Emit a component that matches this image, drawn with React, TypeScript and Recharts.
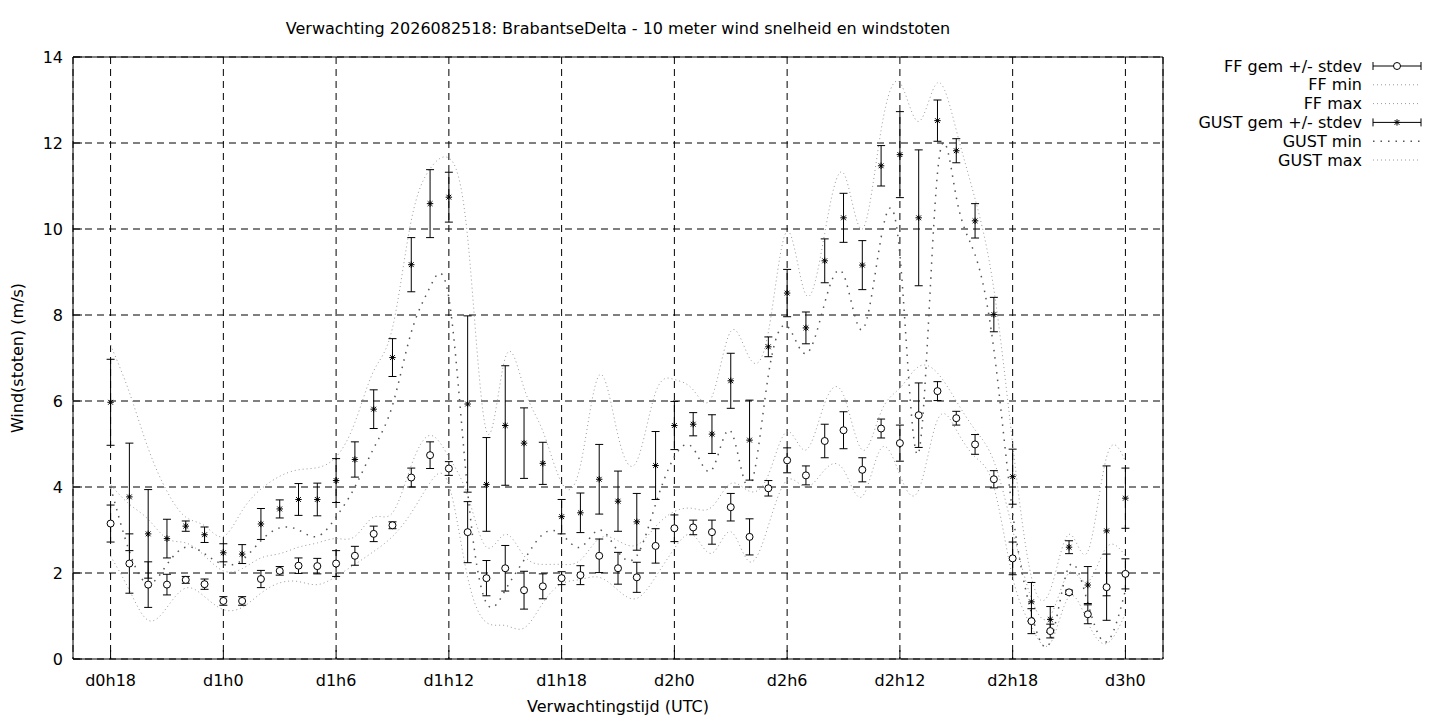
import React from 'react';
import { ComposedChart, Line, Scatter, ErrorBar, XAxis, YAxis, CartesianGrid, ReferenceArea } from 'recharts';

const hours = [18, 19, 20, 21, 22, 23, 24, 25, 26, 27, 28, 29, 30, 31, 32, 33, 34, 35, 36, 37, 38, 39, 40, 41, 42, 43, 44, 45, 46, 47, 48, 49, 50, 51, 52, 53, 54, 55, 56, 57, 58, 59, 60, 61, 62, 63, 64, 65, 66, 67, 68, 69, 70, 71, 72];

const xTicks = [18, 24, 30, 36, 42, 48, 54, 60, 66, 72];
const xTickLabels = ['d0h18', 'd1h0', 'd1h6', 'd1h12', 'd1h18', 'd2h0', 'd2h6', 'd2h12', 'd2h18', 'd3h0'];
const yTicks = [0, 2, 4, 6, 8, 10, 12, 14];

const ffMean = [3.15, 2.22, 1.73, 1.73, 1.84, 1.74, 1.35, 1.35, 1.86, 2.05, 2.17, 2.16, 2.22, 2.40, 2.91, 3.11, 4.22, 4.74, 4.43, 2.95, 1.88, 2.11, 1.60, 1.69, 1.88, 1.95, 2.40, 2.11, 1.90, 2.63, 3.04, 3.06, 2.95, 3.53, 2.84, 3.97, 4.62, 4.27, 5.07, 5.32, 4.40, 5.36, 5.02, 5.67, 6.23, 5.60, 4.99, 4.18, 2.34, 0.88, 0.65, 1.55, 1.04, 1.67, 1.98];
const ffSd = [0.43, 0.69, 0.53, 0.24, 0.08, 0.12, 0.10, 0.10, 0.20, 0.10, 0.18, 0.18, 0.30, 0.22, 0.18, 0.08, 0.22, 0.31, 0.16, 0.71, 0.41, 0.53, 0.44, 0.29, 0.15, 0.22, 0.39, 0.37, 0.35, 0.40, 0.31, 0.17, 0.28, 0.32, 0.42, 0.18, 0.29, 0.22, 0.39, 0.43, 0.28, 0.22, 0.42, 0.75, 0.22, 0.16, 0.23, 0.20, 0.38, 0.29, 0.16, 0.05, 0.22, 0.77, 0.35];
const ffMin = [2.39, 1.6, 0.9, 1.2, 1.65, 1.45, 1.15, 1.2, 1.53, 1.77, 1.8, 1.73, 1.92, 2.2, 2.5, 2.85, 3.4, 4.1, 4.05, 1.9, 0.85, 0.78, 0.72, 1.3, 1.75, 1.85, 1.9, 1.6, 1.41, 1.91, 2.57, 2.88, 2.46, 2.96, 2.26, 3.1, 4.16, 4.0, 4.4, 4.4, 3.78, 4.9, 4.28, 3.93, 5.56, 5.33, 4.7, 4.0, 1.9, 0.75, 0.36, 1.45, 0.85, 0.36, 1.06];
const ffMax = [4.05, 3.6, 3.25, 2.8, 2.7, 2.4, 2.05, 2.1, 2.35, 2.45, 2.6, 2.7, 2.8, 2.85, 3.3, 3.4, 4.5, 5.2, 4.7, 3.8, 2.6, 2.9, 2.4, 2.2, 2.2, 2.3, 2.8, 2.75, 2.65, 3.08, 3.43, 3.5, 3.54, 4.08, 3.9, 4.28, 5.29, 4.86, 5.95, 6.14, 4.86, 5.75, 6.3, 6.8, 6.65, 6.0, 5.33, 4.6, 3.0, 1.4, 1.0, 2.0, 1.8, 2.6, 2.4];

const gustMean = [5.97, 3.77, 2.91, 2.80, 3.09, 2.89, 2.47, 2.44, 3.14, 3.49, 3.71, 3.71, 4.15, 4.64, 5.81, 7.01, 9.17, 10.59, 10.74, 5.93, 4.06, 5.43, 5.02, 4.55, 3.31, 3.40, 4.18, 3.67, 3.19, 4.50, 5.43, 5.46, 5.23, 6.47, 5.09, 7.26, 8.51, 7.70, 9.26, 10.26, 9.16, 11.47, 11.73, 10.26, 12.52, 11.82, 10.19, 8.01, 4.24, 1.33, 0.92, 2.60, 1.72, 2.98, 3.74];
const gustSd = [1.0, 1.25, 1.03, 0.45, 0.12, 0.18, 0.21, 0.22, 0.36, 0.21, 0.37, 0.38, 0.51, 0.41, 0.45, 0.44, 0.63, 0.79, 0.58, 2.05, 1.09, 1.39, 0.82, 0.49, 0.40, 0.46, 0.81, 0.70, 0.66, 0.79, 0.56, 0.27, 0.45, 0.64, 0.93, 0.23, 0.55, 0.37, 0.51, 0.57, 0.57, 0.47, 1.0, 1.58, 0.48, 0.28, 0.40, 0.40, 0.64, 0.45, 0.30, 0.15, 0.43, 1.51, 0.70];
const gustMin = [4.0, 2.5, 1.75, 2.2, 2.6, 2.45, 2.2, 2.3, 2.75, 3.05, 3.0, 2.85, 3.3, 4.0, 4.9, 5.9, 7.6, 8.65, 8.4, 3.9, 1.3, 1.6, 2.3, 2.9, 2.9, 2.6, 3.0, 2.5, 2.4, 3.6, 4.7, 4.9, 4.4, 5.3, 4.0, 6.6, 7.74, 7.1, 8.28, 8.94, 7.66, 9.8, 9.4, 4.8, 11.3, 10.74, 9.4, 7.2, 3.4, 1.06, 0.4, 2.15, 1.3, 0.4, 1.6];
const gustMax = [7.3, 6.2, 4.9, 3.9, 3.3, 3.1, 2.85, 3.45, 3.95, 4.25, 4.4, 4.45, 4.7, 5.5, 6.7, 7.7, 10.2, 11.4, 11.65, 9.8, 5.3, 7.0, 6.3, 5.3, 4.1, 4.5, 6.6, 5.2, 4.6, 6.2, 6.5, 6.26, 6.1, 7.62, 7.0, 7.6, 9.95, 8.47, 9.9, 11.3, 10.0, 12.3, 13.4, 12.5, 13.4, 12.3, 10.7, 8.6, 5.0, 1.9, 1.6, 2.9, 2.5, 4.7, 4.6];

const data = hours.map((h, i) => ({
  h,
  ff: ffMean[i],
  ffSd: ffSd[i],
  ffMin: ffMin[i],
  ffMax: ffMax[i],
  gust: gustMean[i],
  gustSd: gustSd[i],
  gustMin: gustMin[i],
  gustMax: gustMax[i],
}));

const FONT = '"DejaVu Sans", sans-serif';
const FINE = { stroke: '#9a9a9a', dash: '1 3' };
const COARSE = { stroke: '#555', dash: '1.5 6' };
const TICK_LEN = 9;

const CircleMark = (p: any) => {
  if (p.cx == null || p.cy == null) return <g />;
  return <circle cx={p.cx} cy={p.cy} r={3.5} fill="#fff" stroke="#000" strokeWidth={1} />;
};

const StarMark = (p: any) => {
  if (p.cx == null || p.cy == null) return <g />;
  const { cx, cy } = p;
  const s = 3.2;
  const d = 2.4;
  return (
    <g stroke="#000" strokeWidth={1}>
      <line x1={cx - s} y1={cy} x2={cx + s} y2={cy} />
      <line x1={cx} y1={cy - s} x2={cx} y2={cy + s} />
      <line x1={cx - d} y1={cy - d} x2={cx + d} y2={cy + d} />
      <line x1={cx - d} y1={cy + d} x2={cx + d} y2={cy - d} />
    </g>
  );
};

const LeftTick = (p: any) => {
  const { x, y, payload } = p;
  const ax = x + 10;
  return (
    <g>
      <line x1={ax} y1={y} x2={ax + TICK_LEN} y2={y} stroke="#000" strokeWidth={1} />
      <text x={x} y={y} textAnchor="end" dominantBaseline="central" fontSize={16} fontFamily={FONT} fill="#000">
        {payload.value}
      </text>
    </g>
  );
};

const RightTick = (p: any) => {
  const { x, y } = p;
  return <line x1={x} y1={y} x2={x - TICK_LEN} y2={y} stroke="#000" strokeWidth={1} />;
};

const BottomTick = (p: any) => {
  const { x, y, payload } = p;
  const ay = y - 16;
  const idx = xTicks.indexOf(payload.value);
  return (
    <g>
      <line x1={x} y1={ay} x2={x} y2={ay - TICK_LEN} stroke="#000" strokeWidth={1} />
      <text x={x} y={y} dy="0.71em" textAnchor="middle" fontSize={16} fontFamily={FONT} fill="#000">
        {idx >= 0 ? xTickLabels[idx] : ''}
      </text>
    </g>
  );
};

const TopTick = (p: any) => {
  const { x, y } = p;
  return <line x1={x} y1={y} x2={x} y2={y + TICK_LEN} stroke="#000" strokeWidth={1} />;
};

const legendItems = [
  { label: 'FF gem +/- stdev', kind: 'err', mark: 'circle' },
  { label: 'FF min', kind: 'fine' },
  { label: 'FF max', kind: 'fine' },
  { label: 'GUST gem +/- stdev', kind: 'err', mark: 'star' },
  { label: 'GUST min', kind: 'coarse' },
  { label: 'GUST max', kind: 'fine' },
];

const LegendBox = () => {
  const textX = 182;
  const x1 = 193;
  const x2 = 241;
  return (
    <svg width={260} height={125} style={{ position: 'absolute', left: 1180, top: 55 }}>
      {legendItems.map((it, i) => {
        const y = 11 + i * 18.8;
        return (
          <g key={it.label}>
            <text x={textX} y={y} textAnchor="end" dominantBaseline="central" fontSize={16} fontFamily={FONT} fill="#000">
              {it.label}
            </text>
            {it.kind === 'err' ? (
              <g stroke="#000" strokeWidth={1}>
                <line x1={x1} y1={y} x2={x2} y2={y} />
                <line x1={x1} y1={y - 4} x2={x1} y2={y + 4} />
                <line x1={x2} y1={y - 4} x2={x2} y2={y + 4} />
                {it.mark === 'circle' ? (
                  <CircleMark cx={(x1 + x2) / 2} cy={y} />
                ) : (
                  <StarMark cx={(x1 + x2) / 2} cy={y} />
                )}
              </g>
            ) : (
              <line
                x1={x1}
                y1={y}
                x2={x2}
                y2={y}
                stroke={it.kind === 'coarse' ? COARSE.stroke : FINE.stroke}
                strokeWidth={it.kind === 'coarse' ? 1.5 : 1}
                strokeDasharray={it.kind === 'coarse' ? COARSE.dash : FINE.dash}
              />
            )}
          </g>
        );
      })}
    </svg>
  );
};

export default function App() {
  return (
    <div style={{ position: 'absolute', left: 0, top: 0, width: 1440, height: 720, background: '#fff', fontFamily: FONT }}>
      <ComposedChart width={1440} height={720} data={data} margin={{ top: 57, right: 277, bottom: 21, left: 13 }}>
        <CartesianGrid stroke="#000" strokeWidth={1} strokeDasharray="7 5" />
        <XAxis
          dataKey="h"
          type="number"
          domain={[16, 74]}
          ticks={xTicks}
          interval={0}
          height={40}
          axisLine={false}
          tickLine={false}
          tickSize={0}
          tickMargin={16}
          tick={BottomTick}
        />
        <XAxis
          xAxisId="top"
          orientation="top"
          dataKey="h"
          type="number"
          domain={[16, 74]}
          ticks={xTicks}
          interval={0}
          height={0}
          axisLine={false}
          tickLine={false}
          tickSize={0}
          tickMargin={0}
          tick={TopTick}
        />
        <YAxis
          type="number"
          domain={[0, 14]}
          ticks={yTicks}
          interval={0}
          width={60}
          axisLine={false}
          tickLine={false}
          tickSize={0}
          tickMargin={10}
          tick={LeftTick}
        />
        <YAxis
          yAxisId="right"
          orientation="right"
          type="number"
          domain={[0, 14]}
          ticks={yTicks}
          interval={0}
          width={0}
          axisLine={false}
          tickLine={false}
          tickSize={0}
          tickMargin={0}
          tick={RightTick}
        />
        <ReferenceArea x1={16} x2={74} y1={0} y2={14} fill="none" fillOpacity={0} stroke="#000" strokeWidth={1} />
        <Line type="natural" dataKey="ffMin" stroke={FINE.stroke} strokeWidth={1} strokeDasharray={FINE.dash} dot={false} activeDot={false} isAnimationActive={false} />
        <Line type="natural" dataKey="ffMax" stroke={FINE.stroke} strokeWidth={1} strokeDasharray={FINE.dash} dot={false} activeDot={false} isAnimationActive={false} />
        <Line type="natural" dataKey="gustMin" stroke={COARSE.stroke} strokeWidth={1.5} strokeDasharray={COARSE.dash} dot={false} activeDot={false} isAnimationActive={false} />
        <Line type="natural" dataKey="gustMax" stroke={FINE.stroke} strokeWidth={1} strokeDasharray={FINE.dash} dot={false} activeDot={false} isAnimationActive={false} />
        <Scatter dataKey="ff" shape={CircleMark} isAnimationActive={false}>
          <ErrorBar dataKey="ffSd" direction="y" width={4} stroke="#000" strokeWidth={1} />
        </Scatter>
        <Scatter dataKey="gust" shape={StarMark} isAnimationActive={false}>
          <ErrorBar dataKey="gustSd" direction="y" width={4} stroke="#000" strokeWidth={1} />
        </Scatter>
      </ComposedChart>
      <div style={{ position: 'absolute', left: 0, top: 20, width: 1236, textAlign: 'center', fontSize: 16, lineHeight: '18px', color: '#000' }}>
        Verwachting 2026082518: BrabantseDelta - 10 meter wind snelheid en windstoten
      </div>
      <div
        style={{
          position: 'absolute',
          left: 18,
          top: 358,
          transform: 'translate(-50%, -50%) rotate(-90deg)',
          whiteSpace: 'nowrap',
          fontSize: 16,
          lineHeight: '18px',
          color: '#000',
        }}
      >
        Wind(stoten) (m/s)
      </div>
      <div style={{ position: 'absolute', left: 0, top: 698, width: 1236, textAlign: 'center', fontSize: 16, lineHeight: '18px', color: '#000' }}>
        Verwachtingstijd (UTC)
      </div>
      <LegendBox />
    </div>
  );
}
